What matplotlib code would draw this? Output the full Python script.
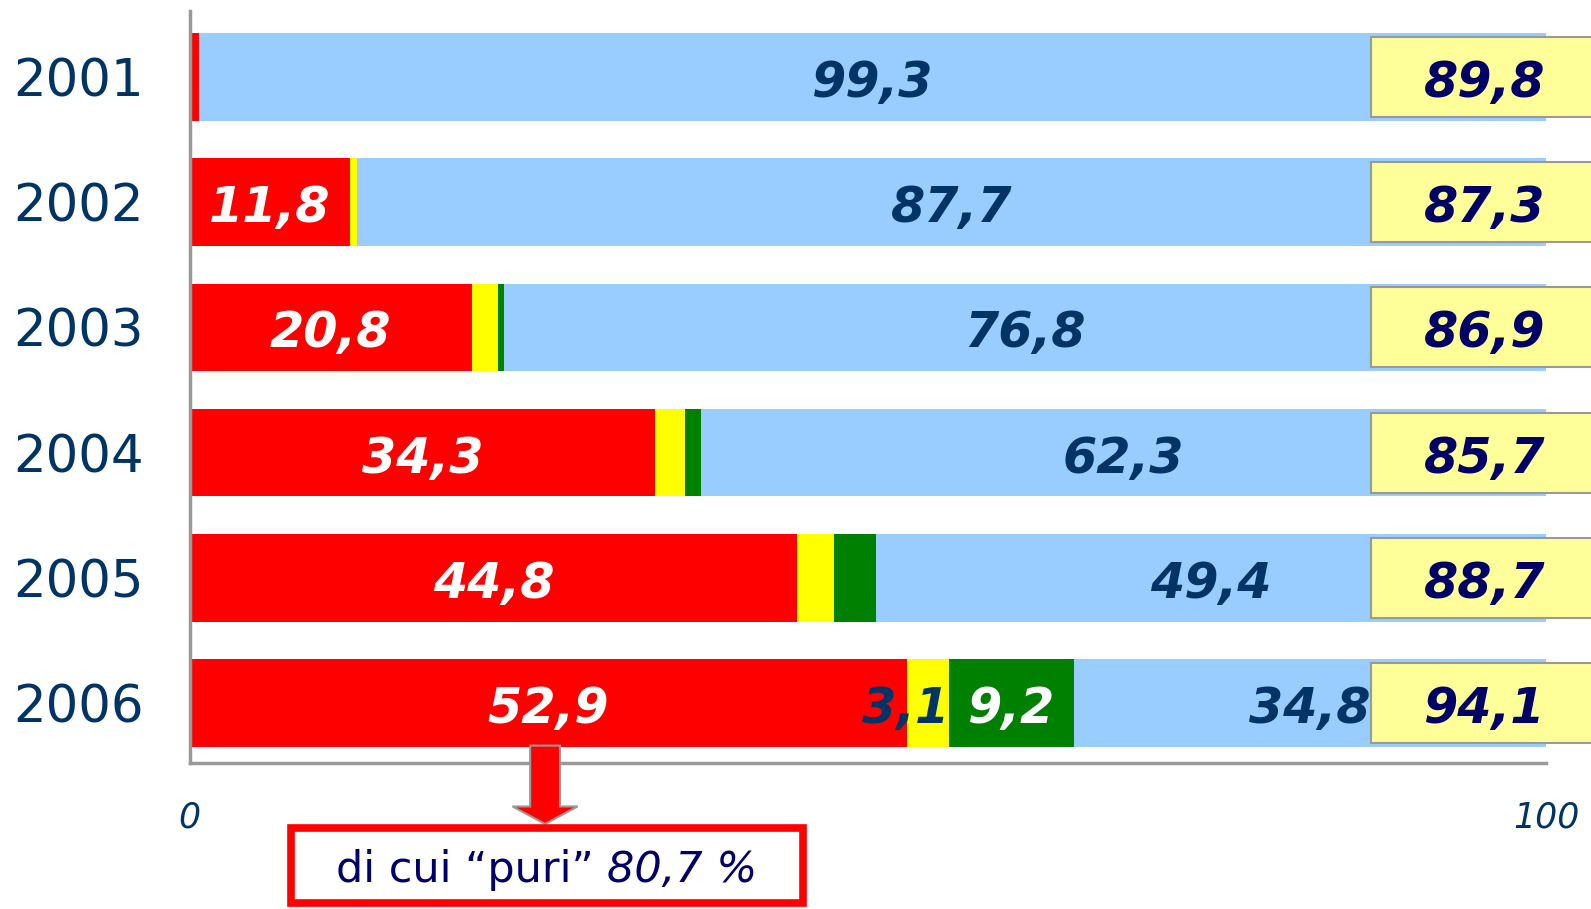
import matplotlib
matplotlib.use('Agg')
import matplotlib.pyplot as plt
import numpy as np
from matplotlib.patches import Rectangle, FancyArrow

years = ['2001', '2002', '2003', '2004', '2005', '2006']
red = [0.7, 11.8, 20.8, 34.3, 44.8, 52.9]
yellow = [0.0, 0.5, 1.9, 2.2, 2.7, 3.1]
green = [0.0, 0.0, 0.5, 1.2, 3.1, 9.2]
blue = [99.3, 87.7, 76.8, 62.3, 49.4, 34.8]
right_vals = [89.8, 87.3, 86.9, 85.7, 88.7, 94.1]
note_a = 'di cui \u201cpuri\u201d '
note_b = '80,7 %'

C_RED, C_YEL, C_GRN, C_BLU = '#FF0000', '#FFFF00', '#008000', '#99CCFF'
NAVY = '#003366'
DNAVY = '#000066'

def fmt(v):
    return f'{v:.1f}'.replace('.', ',')

fig = plt.figure(figsize=(15.91, 9.09), dpi=100)
ax = fig.add_axes([0.1192, 0.1606, 0.8527, 0.8273])

y = np.arange(len(years))
red = np.array(red); yellow = np.array(yellow); green = np.array(green); blue = np.array(blue)
h = 0.7
ax.barh(y, red, height=h, color=C_RED, zorder=2)
ax.barh(y, yellow, left=red, height=h, color=C_YEL, zorder=2)
ax.barh(y, green, left=red + yellow, height=h, color=C_GRN, zorder=2)
ax.barh(y, blue, left=red + yellow + green, height=h, color=C_BLU, zorder=2)

ax.set_xlim(0, 100)
ax.set_ylim(5.479, -0.527)

dy = 0.16  # baseline offset below bar centre
lab_kw = dict(fontsize=35.5, fontweight='bold', fontstyle='italic', va='baseline', zorder=5)
for i in range(len(years)):
    yb = i + dy
    if red[i] >= 5:
        ax.text(red[i] / 2, yb, fmt(red[i]), color='white', ha='center', **lab_kw)
    if yellow[i] >= 3:
        ax.text(red[i] + yellow[i], yb, fmt(yellow[i]), color=NAVY, ha='right', **lab_kw)
    if green[i] >= 3 and i == len(years) - 1:
        ax.text(red[i] + yellow[i] + green[i] / 2, yb, fmt(green[i]), color='white', ha='center', **lab_kw)
    bl = red[i] + yellow[i] + green[i]
    ax.text(bl + blue[i] / 2, yb, fmt(blue[i]), color=NAVY, ha='center', **lab_kw)
    # right-side yellow box
    ax.add_patch(Rectangle((87.1, i - 0.32), 16.7, 0.64, fc='#FFFF99', ec='#999999',
                           lw=1.5, clip_on=False, zorder=4))
    ax.text(95.45, yb, fmt(right_vals[i]), color=DNAVY, ha='center', clip_on=False, **lab_kw)

for s in ['top', 'right']:
    ax.spines[s].set_visible(False)
for s in ['left', 'bottom']:
    ax.spines[s].set_color('#999999')
    ax.spines[s].set_linewidth(2.5)
    ax.spines[s].set_zorder(3)

ax.set_yticks(y, years)
ax.tick_params(axis='y', length=0, pad=33, labelsize=37, labelcolor=NAVY)
ax.set_xticks([0, 100], ['0', '100'])
ax.tick_params(axis='x', length=0, pad=27, labelsize=25, labelcolor=NAVY)
for lbl in ax.get_xticklabels():
    lbl.set_fontstyle('italic')

# arrow from 2006 red segment to note box
cx = 26.2
arr = FancyArrow(cx, 5 + h / 2 - 0.01, 0, 0.616 + 0.01, width=2.2, head_width=4.8,
                 head_length=0.14, length_includes_head=True, fc=C_RED, ec='#999999',
                 lw=1.5, clip_on=False, zorder=6)
ax.add_patch(arr)
ax.add_patch(Rectangle((7.49, 5.998), 37.7, 0.6, fc='white', ec=C_RED, lw=5.5,
                       clip_on=False, zorder=6))

t1 = ax.text(0, 6.33, note_a, fontsize=31, color=DNAVY, ha='left', va='center', zorder=7, clip_on=False)
t2 = ax.text(0, 6.33, note_b, fontsize=31, color=DNAVY, fontstyle='italic', ha='left', va='center', zorder=7, clip_on=False)
fig.canvas.draw()
r = fig.canvas.get_renderer()
w1 = t1.get_window_extent(r).width
w2 = t2.get_window_extent(r).width
inv = ax.transData.inverted()
cpx = ax.transData.transform((26.3, 6.33))
x1 = inv.transform((cpx[0] - (w1 + w2) / 2, cpx[1]))[0]
x2 = inv.transform((cpx[0] - (w1 + w2) / 2 + w1, cpx[1]))[0]
t1.set_x(x1)
t2.set_x(x2)

fig.savefig('out.png', dpi=100)
